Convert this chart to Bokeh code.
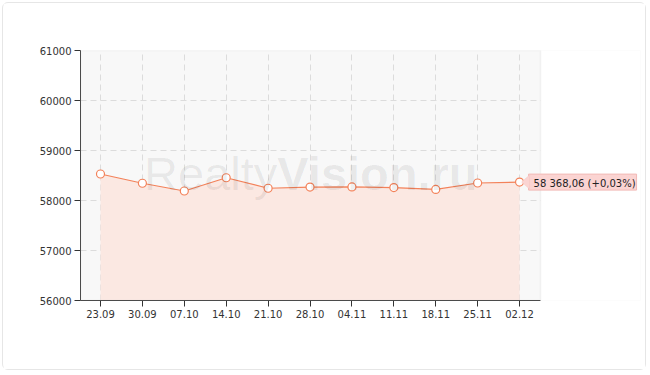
from bokeh.plotting import figure
from bokeh.models import Range1d, FixedTicker, Label, PolyAnnotation, BoxAnnotation
from bokeh.embed import file_html
from bokeh.resources import INLINE

# ---- data ----
dates = ["23.09", "30.09", "07.10", "14.10", "21.10", "28.10",
         "04.11", "11.11", "18.11", "25.11", "02.12"]
prices = [58530, 58345, 58190, 58455, 58245, 58268,
          58272, 58258, 58222, 58350, 58368.06]
last_label = "58 368,06 (+0,03%)"
y_ticks = [56000, 57000, 58000, 59000, 60000, 61000]

LINE = "#f3825a"
FONT = "DejaVu Sans"

xs = list(range(len(dates)))
x_lo, x_hi = -0.477, len(dates) - 1 + 0.5
plot_w, frame_h = 460, 250
px_x = plot_w / (x_hi - x_lo)
px_y = frame_h / (y_ticks[-1] - y_ticks[0])
x_ext = x_hi + 100 / px_x  # extra room on the right for the value tag

p = figure(width=644, height=368, output_backend="svg", toolbar_location=None,
           x_range=Range1d(x_lo, x_ext), y_range=Range1d(y_ticks[0], y_ticks[-1]),
           min_border_left=77, min_border_top=47, min_border_right=7,
           min_border_bottom=71, background_fill_color="#f8f8f8",
           border_fill_color="white", outline_line_color=None,
           margin=(2, 2, 2, 2))
p.styles = {"border": "1px solid #e6e6e6", "border-radius": "6px"}

# grids
for g in (p.xgrid, p.ygrid):
    g.grid_line_color = "#dcdcdc"
    g.grid_line_dash = "6 4"
    g.grid_line_width = 1
p.xgrid.ticker = FixedTicker(ticks=xs)

# area
p.varea(x=xs, y1=[y_ticks[0]] * len(xs), y2=prices, fill_color="#fbe8e2",
        fill_alpha=1.0)

# watermark
p.add_layout(Label(x=4.22, y=58540, text="Realty", text_font="Liberation Sans",
                   text_font_size="47px", text_color="black", text_alpha=0.07,
                   text_align="right", text_baseline="middle"))
p.add_layout(Label(x=4.22, y=58540, text="Vision.ru", text_font="Liberation Sans",
                   text_font_size="47px", text_font_style="bold", text_color="black",
                   text_alpha=0.07, text_align="left", text_baseline="middle"))

# line + markers
p.line(xs, prices, line_color=LINE, line_width=1.2)
p.scatter(xs, prices, size=8, fill_color="white", line_color=LINE, line_width=1.2)

# white cover for the area right of the plot
p.add_layout(BoxAnnotation(left=x_hi, fill_color="white", fill_alpha=1,
                           line_alpha=0))
# plot outline (top/right)
p.add_layout(BoxAnnotation(right=x_hi, fill_alpha=0, line_color="#d6d6d6",
                           line_width=1.5))

# value tag
tag_fill = "#fbd4d2"
tag_line = "#f2b9b6"
x0, y0 = xs[-1], prices[-1]
tri_x = [x0 + 2 / px_x, x0 + 10 / px_x, x0 + 10 / px_x]
tri_y = [y0, y0 + 7 / px_y, y0 - 7 / px_y]
p.add_layout(Label(x=x0, y=y0, text=last_label, x_offset=9,
                   text_align="left", text_baseline="middle", text_font=FONT,
                   text_font_size="10px", text_color="#222",
                   background_fill_color=tag_fill, border_line_color=tag_line,
                   padding=(5, 1, 4, 1), level="overlay"))
p.add_layout(PolyAnnotation(xs=tri_x, ys=tri_y, fill_color=tag_fill, fill_alpha=1,
                            line_color=tag_line, level="overlay"))

# axes
for ax in (p.xaxis, p.yaxis):
    ax.axis_line_color = "#333333"
    ax.major_tick_line_color = "#333333"
    ax.major_tick_out = 6
    ax.major_tick_in = 0
    ax.minor_tick_line_color = None
    ax.major_label_text_font = FONT
    ax.major_label_text_font_size = "10px"
    ax.major_label_text_color = "#333333"
    ax.major_label_standoff = 3
p.xaxis.ticker = FixedTicker(ticks=xs)
p.xaxis.bounds = (x_lo, x_hi)
p.xaxis.major_label_overrides = {i: d for i, d in enumerate(dates)}
p.yaxis.ticker = FixedTicker(ticks=y_ticks)
p.yaxis.formatter.use_scientific = False

open("out.html", "w").write(file_html(p, INLINE))
